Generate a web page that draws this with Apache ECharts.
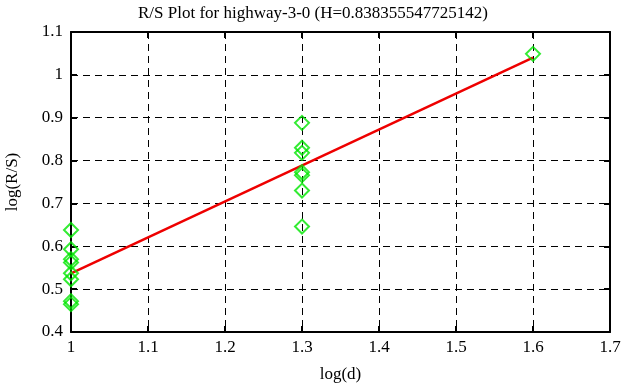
<!DOCTYPE html>
<html><head><meta charset="utf-8">
<script src="https://cdn.jsdelivr.net/npm/echarts@6/dist/echarts.min.js"></script>
<style>html,body{margin:0;padding:0;background:#fff}#c{width:626px;height:387px}</style>
</head><body><div id="c"></div>
<script>
const titleText = "R/S Plot for highway-3-0 (H=0.838355547725142)";
const logD = [1, 1, 1, 1, 1, 1, 1, 1, 1.3, 1.3, 1.3, 1.3, 1.3, 1.3, 1.3, 1.6];
const logRS = [0.638, 0.593, 0.570, 0.562, 0.537, 0.523, 0.472, 0.465, 0.888, 0.830, 0.818, 0.773, 0.766, 0.730, 0.646, 1.049];
const fitX = [1, 1.6];
const fitY = [0.537, 1.040];
const xTicks = ["1","1.1","1.2","1.3","1.4","1.5","1.6","1.7"];
const yTicks = ["0.4","0.5","0.6","0.7","0.8","0.9","1","1.1"];

const font = "'Liberation Serif','DejaVu Serif',serif";
const chart = echarts.init(document.getElementById('c'));
const fmtX = v => xTicks[Math.round((v - 1) * 10)] ?? '';
const fmtY = v => yTicks[Math.round((v - 0.4) * 10)] ?? '';
const baseAxis = {
  axisLine: {show: true, lineStyle: {color: '#000', width: 2}},
  axisTick: {show: true, inside: true, length: 6, lineStyle: {color: '#000', width: 2}},
};
chart.setOption({
  animation: false,
  title: {text: titleText, left: 'center', top: 0, textStyle: {fontFamily: font, fontSize: 17, fontWeight: 'normal', color: '#000'}},
  grid: {left: 71, right: 16, top: 32, bottom: 55, show: false, containLabel: false, outerBoundsMode: 'none'},
  xAxis: [
    Object.assign({type: 'value', min: 1, max: 1.7, interval: 0.1, position: 'bottom',
      name: 'log(d)', nameLocation: 'middle', nameGap: 34,
      nameTextStyle: {fontFamily: font, fontSize: 17, color: '#000'},
      axisLabel: {formatter: fmtX, fontFamily: font, fontSize: 17, color: '#000', margin: 7},
      splitLine: {show: true, lineStyle: {color: '#000', type: [7, 5], width: 1}}}, baseAxis),
    Object.assign({type: 'value', min: 1, max: 1.7, interval: 0.1, position: 'top',
      axisLabel: {show: false}, splitLine: {show: false}}, baseAxis)
  ],
  yAxis: [
    Object.assign({type: 'value', min: 0.4, max: 1.1, interval: 0.1, position: 'left',
      name: 'log(R/S)', nameLocation: 'middle', nameGap: 50, nameRotate: 90,
      nameTextStyle: {fontFamily: font, fontSize: 17, color: '#000'},
      axisLabel: {formatter: fmtY, fontFamily: font, fontSize: 17, color: '#000', margin: 8},
      splitLine: {show: true, lineStyle: {color: '#000', type: [7, 5], width: 1}}}, baseAxis),
    Object.assign({type: 'value', min: 0.4, max: 1.1, interval: 0.1, position: 'right',
      axisLabel: {show: false}, splitLine: {show: false}}, baseAxis)
  ],
  series: [
    {type: 'line', data: fitX.map((x, i) => [x, fitY[i]]), showSymbol: false, symbol: 'none',
      lineStyle: {color: '#ee0000', width: 2.5}, z: 3},
    {type: 'scatter', data: logD.map((x, i) => [x, logRS[i]]), symbol: 'diamond', symbolSize: 14,
      itemStyle: {color: 'rgba(0,0,0,0)', borderColor: '#00e600', borderWidth: 2}, z: 4}
  ]
});
</script></body></html>
